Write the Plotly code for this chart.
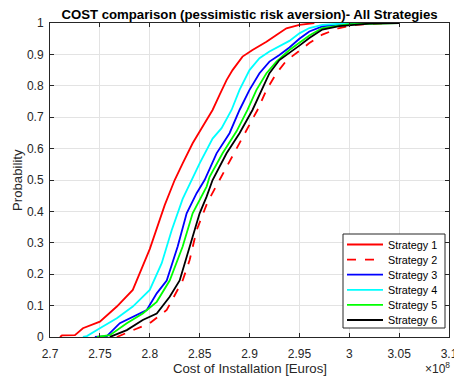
import plotly.graph_objects as go

# Cost values in units of 1e8 Euros, cumulative probabilities
s1_cost = [2.71, 2.712, 2.725, 2.733, 2.75, 2.767, 2.783, 2.80, 2.815, 2.825, 2.833, 2.843, 2.852, 2.863, 2.87, 2.877, 2.883, 2.893, 2.903, 2.917, 2.927, 2.937, 2.95, 2.965]
s1_prob = [0.0, 0.005, 0.006, 0.028, 0.049, 0.097, 0.15, 0.28, 0.42, 0.50, 0.553, 0.617, 0.665, 0.723, 0.771, 0.818, 0.85, 0.893, 0.914, 0.94, 0.962, 0.983, 0.994, 1.0]

s2_cost = [2.767, 2.783, 2.80, 2.817, 2.833, 2.84, 2.847, 2.858, 2.87, 2.877, 2.893, 2.908, 2.917, 2.927, 2.937, 2.95, 2.96, 2.973, 2.99, 3.007, 3.04]
s2_prob = [0.0, 0.022, 0.044, 0.086, 0.18, 0.245, 0.34, 0.43, 0.50, 0.542, 0.638, 0.723, 0.787, 0.84, 0.88, 0.91, 0.936, 0.963, 0.984, 0.994, 1.0]

s3_cost = [2.745, 2.757, 2.77, 2.783, 2.797, 2.807, 2.817, 2.828, 2.837, 2.847, 2.855, 2.867, 2.88, 2.89, 2.90, 2.91, 2.92, 2.93, 2.94, 2.95, 2.96, 2.973, 3.0, 3.03]
s3_prob = [0.0, 0.003, 0.044, 0.065, 0.086, 0.139, 0.18, 0.288, 0.394, 0.458, 0.50, 0.585, 0.649, 0.723, 0.787, 0.84, 0.877, 0.898, 0.922, 0.95, 0.973, 0.989, 0.998, 1.0]

s4_cost = [2.733, 2.737, 2.75, 2.767, 2.783, 2.80, 2.812, 2.822, 2.833, 2.842, 2.85, 2.863, 2.872, 2.882, 2.89, 2.90, 2.91, 2.92, 2.93, 2.94, 2.95, 2.96, 2.973, 3.0]
s4_prob = [0.0, 0.003, 0.028, 0.06, 0.097, 0.15, 0.235, 0.34, 0.44, 0.50, 0.553, 0.632, 0.665, 0.723, 0.787, 0.85, 0.888, 0.909, 0.925, 0.943, 0.967, 0.984, 0.994, 1.0]

s5_cost = [2.747, 2.76, 2.777, 2.793, 2.807, 2.82, 2.833, 2.843, 2.857, 2.86, 2.873, 2.887, 2.898, 2.907, 2.917, 2.927, 2.94, 2.95, 2.96, 2.973, 3.0, 3.05]
s5_prob = [0.0, 0.006, 0.044, 0.075, 0.112, 0.18, 0.288, 0.394, 0.479, 0.51, 0.585, 0.655, 0.723, 0.787, 0.84, 0.877, 0.914, 0.938, 0.96, 0.984, 0.996, 1.0]

s6_cost = [2.76, 2.762, 2.777, 2.793, 2.807, 2.82, 2.83, 2.84, 2.85, 2.857, 2.863, 2.877, 2.89, 2.903, 2.912, 2.92, 2.93, 2.94, 2.95, 2.96, 2.973, 2.99, 3.02, 3.05]
s6_prob = [0.0, 0.003, 0.022, 0.054, 0.075, 0.128, 0.18, 0.288, 0.394, 0.447, 0.50, 0.585, 0.649, 0.723, 0.787, 0.84, 0.882, 0.904, 0.928, 0.952, 0.979, 0.99, 0.998, 1.0]

names = ["Strategy 1", "Strategy 2", "Strategy 3", "Strategy 4", "Strategy 5", "Strategy 6"]
colors = ["#ff0000", "#ff0000", "#0000ff", "#00ffff", "#00ff00", "#000000"]
dashes = ["solid", "dash", "solid", "solid", "solid", "solid"]

x_ticks = [2.7, 2.75, 2.8, 2.85, 2.9, 2.95, 3.0, 3.05, 3.1]
x_ticklabels = ["2.7", "2.75", "2.8", "2.85", "2.9", "2.95", "3", "3.05", "3.1"]
y_ticks = [0, 0.1, 0.2, 0.3, 0.4, 0.5, 0.6, 0.7, 0.8, 0.9, 1]
y_ticklabels = ["0", "0.1", "0.2", "0.3", "0.4", "0.5", "0.6", "0.7", "0.8", "0.9", "1"]

series = [(s1_cost, s1_prob), (s2_cost, s2_prob), (s3_cost, s3_prob),
          (s4_cost, s4_prob), (s5_cost, s5_prob), (s6_cost, s6_prob)]

FONT = "Liberation Sans, Arial, sans-serif"
AX = "#262626"
LW = 1.8

fig = go.Figure()
for (xc, yp), nm, col, ds in zip(series, names, colors, dashes):
    fig.add_trace(go.Scatter(x=xc, y=yp, mode="lines", name=nm,
                             line=dict(color=col, width=LW, dash=ds),
                             showlegend=False))

# The page body has an 8px margin; layout positions below are given in page pixels.
OFF = 8
W, H = 462 - OFF, 381 - OFF
PL, PR, PT, PB = 50, 449, 23, 337  # plot area in page pixels
L, R, T, B = PL - OFF, W - (PR - OFF), PT - OFF, H - (PB - OFF)
pw, ph = PR - PL, PB - PT

def px(x):
    return (x - PL) / pw

def py(y):
    return (PB - y) / ph

shapes = []
annotations = []
# legend box
shapes.append(dict(type="rect", xref="paper", yref="paper",
                   x0=px(343), x1=px(445), y0=py(328), y1=py(234),
                   line=dict(color=AX, width=1), fillcolor="white", layer="above"))
row0, step = 244.5, 15.1
for i, (nm, col, ds) in enumerate(zip(names, colors, dashes)):
    yy = row0 + i * step
    shapes.append(dict(type="line", xref="paper", yref="paper",
                       x0=px(347), x1=px(383), y0=py(yy), y1=py(yy),
                       line=dict(color=col, width=LW, dash=ds), layer="above"))
    annotations.append(dict(text=nm, xref="paper", yref="paper", x=px(386), y=py(yy),
                            xanchor="left", yanchor="middle", showarrow=False,
                            font=dict(family=FONT, size=10.8, color="#000000")))

annotations.append(dict(text="×10<sup>8</sup>", xref="paper", yref="paper",
                        x=px(452), y=py(368), xanchor="right", yanchor="middle",
                        showarrow=False, font=dict(family=FONT, size=12, color=AX)))
annotations.append(dict(text="Cost of Installation [Euros]", xref="paper", yref="paper",
                        x=0.5, y=py(368), xanchor="center", yanchor="middle",
                        showarrow=False, font=dict(family=FONT, size=13.2, color=AX)))
annotations.append(dict(text="Probability", xref="paper", yref="paper",
                        x=px(17), y=0.5, xanchor="center", yanchor="middle", textangle=-90,
                        showarrow=False, font=dict(family=FONT, size=13.2, color=AX)))

fig.update_layout(
    width=W, height=H,
    margin=dict(l=L, r=R, t=T, b=B, pad=0, autoexpand=False),
    paper_bgcolor="white", plot_bgcolor="white",
    font=dict(family=FONT, size=12, color=AX),
    title=dict(text="<b>COST comparison (pessimistic risk aversion)- All Strategies</b>",
               x=0.5, xref="paper", xanchor="center", y=1 - (14 - OFF) / H, yanchor="middle",
               font=dict(family=FONT, size=13.2, color="#000000")),
    shapes=shapes, annotations=annotations,
    showlegend=False,
)
fig.update_xaxes(range=[2.7, 3.1], tickvals=x_ticks, ticktext=x_ticklabels, automargin=False,
                 showgrid=True, gridcolor="#e3e3e3", gridwidth=1,
                 zeroline=False, showline=True, linecolor=AX, linewidth=1, mirror="allticks",
                 ticks="inside", ticklen=4, tickcolor=AX, ticklabelstandoff=6,
                 tickfont=dict(family=FONT, size=12, color=AX))
fig.update_yaxes(range=[0, 1], tickvals=y_ticks, ticktext=y_ticklabels, automargin=False,
                 showgrid=True, gridcolor="#e3e3e3", gridwidth=1,
                 zeroline=False, showline=True, linecolor=AX, linewidth=1, mirror="allticks",
                 ticks="inside", ticklen=4, tickcolor=AX, ticklabelstandoff=3,
                 tickfont=dict(family=FONT, size=12, color=AX))

fig.write_html("out.html")
